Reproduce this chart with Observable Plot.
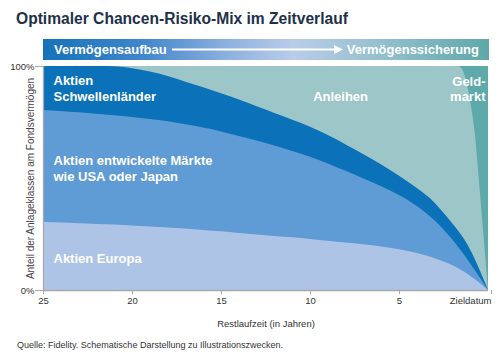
<!DOCTYPE html>
<html><head><meta charset="utf-8">
<script src="https://cdn.jsdelivr.net/npm/d3@7"></script>
<script src="https://cdn.jsdelivr.net/npm/@observablehq/plot@0.6"></script>
<style>
body{margin:0;background:#fff;}
#wrap{position:relative;width:499px;height:358px;overflow:hidden;font-family:"Liberation Sans",Arial,sans-serif;}
#title{position:absolute;left:16px;top:10px;font-size:15.6px;font-weight:bold;color:#1d3149;white-space:nowrap;}
#banner{position:absolute;left:43px;top:39px;width:446px;height:21px;
  background:linear-gradient(to right,#1672b9 0%,#3f86cb 22%,#8fb2df 42%,#b9cce9 56%,#97c0cf 75%,#5ea8a9 100%);}
#banner .l{position:absolute;left:11px;top:3px;color:#fff;font-weight:bold;font-size:13px;}
#banner .r{position:absolute;right:10px;top:3px;color:#fff;font-weight:bold;font-size:13px;}
#banner svg{position:absolute;left:0;top:0;}
#chart{position:absolute;left:0;top:62px;}
#caption{position:absolute;left:17px;top:340px;font-size:9px;color:#333;white-space:nowrap;}
</style></head>
<body>
<div id="wrap">
  <div id="title">Optimaler Chancen-Risiko-Mix im Zeitverlauf</div>
  <div id="banner">
    <span class="l">Vermögensaufbau</span>
    <svg width="446" height="21"><line x1="129" y1="10.5" x2="293" y2="10.5" stroke="#fff" stroke-width="2"/><polygon points="291,6 300,10.5 291,15" fill="#fff"/></svg>
    <span class="r">Vermögenssicherung</span>
  </div>
  <div id="chart"></div>
  <div id="caption">Quelle: Fidelity. Schematische Darstellung zu Illustrationszwecken.</div>
</div>
<script>
// Restlaufzeit in Jahren
const years = [25, 24, 23, 22, 21, 20, 19, 18, 17, 16, 15, 14, 13, 12, 11, 10, 9, 8, 7, 6, 5, 4, 3, 2.5, 2, 1.75, 1.5, 1.25, 1, 0.75, 0.5, 0.25, 0];
// cumulative upper boundary of each asset class (share of fund assets)
const europeTop    = [0.304, 0.301, 0.298, 0.295, 0.292, 0.288, 0.284, 0.279, 0.274, 0.268, 0.262, 0.255, 0.248, 0.241, 0.235, 0.228, 0.220, 0.212, 0.204, 0.194, 0.182, 0.165, 0.142, 0.127, 0.110, 0.100, 0.089, 0.077, 0.064, 0.049, 0.033, 0.017, 0];
const developedTop = [0.804, 0.799, 0.793, 0.787, 0.780, 0.772, 0.763, 0.753, 0.740, 0.725, 0.708, 0.688, 0.667, 0.645, 0.621, 0.595, 0.565, 0.532, 0.498, 0.463, 0.424, 0.375, 0.310, 0.270, 0.225, 0.200, 0.174, 0.147, 0.118, 0.089, 0.060, 0.030, 0];
const emergingTop  = [1, 1, 1, 1, 0.999, 0.990, 0.975, 0.955, 0.930, 0.905, 0.878, 0.850, 0.820, 0.790, 0.760, 0.729, 0.692, 0.650, 0.606, 0.560, 0.510, 0.455, 0.390, 0.345, 0.297, 0.272, 0.245, 0.215, 0.180, 0.140, 0.095, 0.048, 0];
const bondsTop     = [1, 1, 1, 1, 1, 1, 1, 1, 1, 1, 1, 1, 1, 1, 1, 1, 1, 1, 1, 1, 1, 1, 1, 1, 1, 1, 0.990, 0.940, 0.840, 0.705, 0.480, 0.240, 0];
const moneyTop     = years.map(() => 1);

const categories = ["Geldmarkt", "Anleihen", "Aktien Schwellenländer", "Aktien entwickelte Märkte", "Aktien Europa"];
const colors = ["#5ea9a9", "#9dc6c8", "#0b71b8", "#5f9bd5", "#adc4e7"];
const tops = [moneyTop, bondsTop, emergingTop, developedTop, europeTop];

const xTicks = [25, 20, 15, 10, 5];
const yTicks = [0, 1];

const labelsStart = [
  {text: "Aktien", year: 25, share: 0.937},
  {text: "Schwellenländer", year: 25, share: 0.863},
  {text: "Aktien entwickelte Märkte", year: 25, share: 0.580},
  {text: "wie USA oder Japan", year: 25, share: 0.506},
  {text: "Aktien Europa", year: 25, share: 0.141}
];
const labelsMiddle = [{text: "Anleihen", year: 8.31, share: 0.863}];
const labelsEnd = [
  {text: "Geld-", year: 0, share: 0.930},
  {text: "markt", year: 0, share: 0.863}
];

const table = [];
categories.forEach((c, i) => years.forEach((yr, j) => table.push({cat: c, year: yr, top: tops[i][j]})));

const lab = {fill: "#fff", fontWeight: "bold", fontSize: 13, x: "year", y: "share", text: "text", lineAnchor: "middle"};

const chart = Plot.plot({
  width: 499,
  height: 270,
  marginLeft: 43,
  marginRight: 11,
  marginTop: 4,
  marginBottom: 42,
  style: {fontFamily: "'Liberation Sans', Arial, sans-serif", background: "transparent"},
  x: {domain: [25, 0]},
  y: {domain: [0, 1]},
  color: {domain: categories, range: colors},
  marks: [
    Plot.areaY(table, {x: "year", y1: 0, y2: "top", z: "cat", fill: "cat", curve: "monotone-x"}),
    Plot.text(labelsStart, {...lab, textAnchor: "start", dx: 10}),
    Plot.text(labelsMiddle, {...lab, textAnchor: "middle"}),
    Plot.text(labelsEnd, {...lab, textAnchor: "end", dx: -3}),
    Plot.ruleX([25], {stroke: "#a8a8a8", strokeWidth: 1.3}),
    Plot.ruleY([0], {stroke: "#a8a8a8", strokeWidth: 1.3}),
    Plot.axisX({ticks: xTicks, tickSize: 4, tickPadding: 3, fontSize: 9.5, stroke: "#a8a8a8", fill: "#333", label: null}),
    Plot.axisX({ticks: [0], tickSize: 4, tickPadding: 3, fontSize: 9.5, stroke: "#a8a8a8", fill: "#333", label: null, tickFormat: () => "Zieldatum", textAnchor: "end", dx: 3}),
    Plot.axisY({ticks: yTicks, tickSize: 8, tickPadding: 1, fontSize: 9.5, stroke: "#a8a8a8", fill: "#333", label: null, tickFormat: d => (d * 100) + "%"}),
    Plot.text(["Anteil der Anlageklassen am Fondsvermögen"], {frameAnchor: "left", textAnchor: "middle", rotate: -90, dx: -13, fontSize: 10, fill: "#444"}),
    Plot.text(["Restlaufzeit (in Jahren)"], {frameAnchor: "bottom", dy: 33, fontSize: 9.5, fill: "#333", lineAnchor: "middle"})
  ]
});
document.getElementById("chart").appendChild(chart);
</script>
</body></html>
